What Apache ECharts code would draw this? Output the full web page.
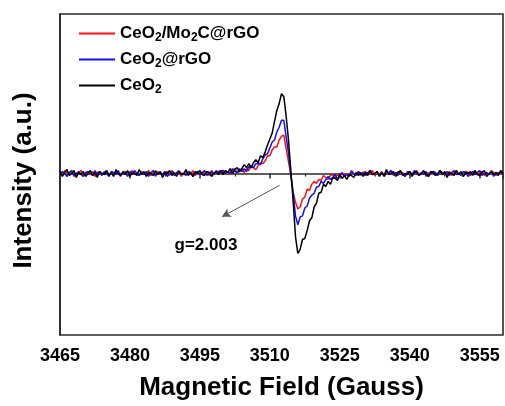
<!DOCTYPE html>
<html><head><meta charset="utf-8">
<script src="https://cdn.jsdelivr.net/npm/echarts@6/dist/echarts.min.js"></script>
<style>html,body{margin:0;padding:0;background:#fff}#c{width:505px;height:406px}</style>
</head><body><div id="c"></div>
<script>
// Sampling grid of the spectra (Gauss)
const FIELD_START = 3465;
const FIELD_STEP = 0.5;
const xTicks = [3465, 3480, 3495, 3510, 3525, 3540, 3555];
const seriesNames = ['CeO2/Mo2C@rGO', 'CeO2@rGO', 'CeO2'];

// Intensity (a.u.), one value per 0.5 G from 3465 to 3560
const redCeO2Mo2CrGO = [
0,-2,3,1,-1,2,-3,0,1,3,-2,1,0,-1,2,-3,1,2,-1,0,
3,-2,1,-1,2,0,-3,1,2,-2,0,3,-1,1,-2,2,-1,0,3,-2,
1,-3,2,0,-1,1,2,-2,3,0,-1,2,-3,1,0,2,-1,3,-2,1,
0,-1,2,1,-2,3,0,1,2,3,
0,3,1,-1,3,5,1,2,5,1,5,3,8,6,4,8,11,10,13,18,
18,24,27,27,34,38,39,25,12,-1,-19,-29,-36,-34,-26,-24,-16,-17,-11,-8,
-10,-6,-7,-2,-4,-6,-2,-1,-5,-1,-2,1,-2,0,-3,3,0,-1,2,-2,
1,
2,-1,0,3,-2,1,-1,2,-3,0,1,3,-2,0,2,-1,1,-3,2,0,
-2,1,3,-1,0,2,-3,1,-1,2,0,-2,3,1,-1,0,2,-2,1,3,
-1,0,-3,2,1,-2,0,3,-1,1,2,-2,0,-1,3,1,-2,0,2,-1
];
const blueCeO2rGO = [
-1,2,0,-3,1,3,-2,0,2,-1,-3,1,2,0,-2,3,-1,1,-2,2,
0,-3,2,1,-1,3,-2,0,1,-3,2,-1,3,0,-2,1,-1,2,-3,1,
3,-2,0,1,-1,2,-3,0,2,-2,1,3,-1,0,-2,2,1,-3,0,2,
-1,1,3,-2,0,2,-1,3,1,2,
3,0,2,0,5,2,1,5,2,5,2,7,6,6,10,10,9,15,19,20,
26,32,34,42,47,54,54,37,21,-2,-20,-43,-52,-44,-43,-35,-33,-25,-22,-20,
-14,-13,-8,-10,-6,-3,-6,-4,-1,-6,-1,0,-3,-1,-3,2,0,-2,2,-1,
1,
-2,1,3,-1,0,2,-2,1,-3,2,0,3,-1,1,-2,2,0,-3,1,2,
-1,3,0,-2,1,-1,2,-3,0,2,1,-2,3,-1,0,2,-2,1,3,-1,
0,-2,2,1,-3,0,2,-1,1,3,-2,0,1,-1,2,-3,1,0,2,-1
];
const blackCeO2 = [
2,-3,1,4,-2,0,3,-4,1,-1,2,-3,0,3,-2,1,-4,2,0,-1,
3,-2,1,-3,4,0,-2,2,-1,3,-3,1,0,-2,4,-1,2,-3,1,0,
-2,3,-1,2,-4,1,0,3,-2,1,-3,2,0,-1,4,-2,1,-3,2,0,
3,-1,-2,2,1,-3,0,2,-1,3,
-1,3,1,5,0,4,6,2,5,9,6,10,6,11,14,11,18,16,22,29,
35,41,53,64,71,81,78,58,34,3,-28,-64,-81,-77,-67,-66,-58,-48,-45,-34,
-30,-20,-19,-11,-13,-8,-11,-4,-5,-7,-1,-5,-2,-6,-1,-2,-4,1,-2,1,
-3,
1,-2,3,-1,0,2,-3,1,-2,4,-1,0,2,-3,1,3,-2,0,-1,2,
-3,1,2,-2,0,3,-1,-3,2,1,-2,0,3,-1,2,-4,1,0,-2,3,
-1,2,-3,1,0,2,-2,3,-1,-2,1,3,-3,0,2,-1,1,-2,3,0
];

// annotation
const arrowFrom = [3512.1, -12];
const arrowTo = [3499.7, -44];
const gLabelPos = [3496.3, -73];
const gLabel = 'g=2.003';

function pairs(arr){ return arr.map((v,i)=>[FIELD_START + i*FIELD_STEP, v]); }

const FONT = 'Liberation Sans, Arial';
const rich = {
  n:{fontSize:17,fontWeight:'bold',fontFamily:FONT,color:'#000'},
  s:{fontSize:12,fontWeight:'bold',fontFamily:FONT,color:'#000',padding:[9,0,0,0]}
};
function legendFmt(name){
  return name.replace(/([^0-9]+)|([0-9]+)/g,(m,a,b)=> a ? '{n|'+a+'}' : '{s|'+b+'}');
}

const chart = echarts.init(document.getElementById('c'));
const colors = ['#ff1010', '#1010ee', '#000000'];
const datas = [redCeO2Mo2CrGO, blueCeO2rGO, blackCeO2];
chart.setOption({
  animation:false,
  backgroundColor:'#fff',
  grid:{left:60,right:2,top:14,bottom:66,show:true,borderColor:'#2a2a2a',borderWidth:1.6},
  legend:{
    orient:'vertical',left:74,top:20,icon:'rect',itemWidth:36,itemHeight:2,itemGap:7,itemTextGap:7,
    data:seriesNames,
    formatter:legendFmt,
    textStyle:{rich:rich}
  },
  xAxis:{
    type:'value',min:3465,max:3560,interval:15,
    name:'Magnetic Field (Gauss)',nameLocation:'middle',nameGap:40,
    nameTextStyle:{fontSize:26,fontWeight:'bold',fontFamily:FONT,color:'#000'},
    axisLine:{lineStyle:{color:'#2a2a2a',width:1.6}},
    axisTick:{inside:false,length:5,lineStyle:{color:'#2a2a2a',width:1.5}},
    minorTick:{show:true,splitNumber:2,length:3,lineStyle:{color:'#2a2a2a',width:1.2}},
    axisLabel:{margin:12,fontSize:18,fontWeight:'bold',fontFamily:FONT,color:'#000',showMaxLabel:false,
      formatter:v=> xTicks.indexOf(v)>=0 ? String(v) : ''},
    splitLine:{show:false}
  },
  yAxis:{
    type:'value',min:-164,max:162,
    name:'Intensity (a.u.)',nameLocation:'middle',nameGap:23,
    nameTextStyle:{fontSize:26,fontWeight:'bold',fontFamily:FONT,color:'#000',padding:[0,12,0,0]},
    axisLine:{show:true,lineStyle:{color:'#2a2a2a',width:1.6}},
    axisTick:{show:false},axisLabel:{show:false},splitLine:{show:false}
  },
  series: seriesNames.map((nm,k)=>({
    name:nm,type:'line',symbol:'none',data:pairs(datas[k]),
    lineStyle:{color:colors[k],width:1.5},itemStyle:{color:colors[k]},
    markLine: k===2 ? {
      silent:true,symbol:['none','arrow'],symbolSize:[7,9],
      lineStyle:{color:'#555',width:1,type:'solid'},label:{show:false},
      data:[[{coord:arrowFrom},{coord:arrowTo}]]
    } : undefined,
    markPoint: k===2 ? {
      silent:true,symbol:'circle',symbolSize:0,
      label:{show:true,position:'inside',formatter:gLabel,fontSize:17,fontWeight:'bold',fontFamily:FONT,color:'#000'},
      data:[{coord:gLabelPos}]
    } : undefined
  }))
});
</script></body></html>
